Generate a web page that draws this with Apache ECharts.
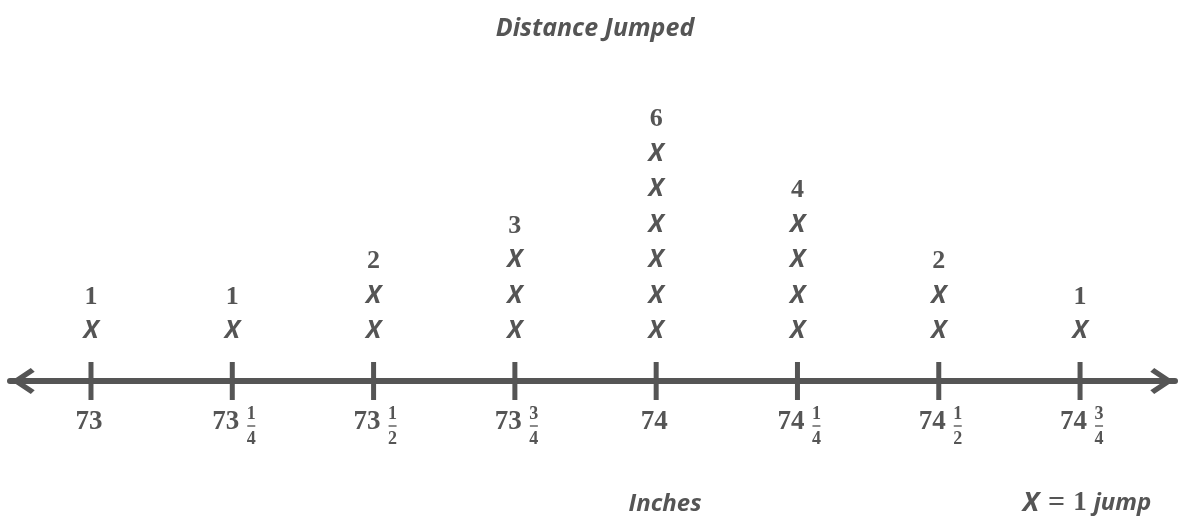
<!DOCTYPE html>
<html>
<head>
<meta charset="utf-8">
<script src="https://cdn.jsdelivr.net/npm/echarts@6/dist/echarts.min.js"></script>
<style>
html,body{margin:0;padding:0;background:#fff;}
#c{width:1178px;height:519px;}
</style>
</head>
<body>
<div id="c"></div>
<script>
// ---- data ----
const tickValues = [73, 73.25, 73.5, 73.75, 74, 74.25, 74.5, 74.75];
const tickWhole = ['73', '73', '73', '73', '74', '74', '74', '74'];
const tickNum = ['', '1', '1', '3', '', '1', '1', '3'];
const tickDen = ['', '4', '2', '4', '', '4', '2', '4'];
const counts = [1, 1, 2, 3, 6, 4, 2, 1];
const titleText = 'Distance Jumped';
const axisName = 'Inches';

// ---- styles ----
const GRAY = '#555555';
const Y_MIN = -0.4, Y_MAX = 8;
const SERIF = '"Liberation Serif", "DejaVu Serif", serif';
const SANS = '"Open Sans", "DejaVu Sans", sans-serif';

const xMarks = [];
tickValues.forEach((v, i) => {
  for (let k = 1; k <= counts[i]; k++) xMarks.push([v, k]);
});
const countLabels = tickValues.map((v, i) => [v, counts[i] + 1, counts[i]]);
const tickData = tickValues.map((v, i) => [v, i]);

const chart = echarts.init(document.getElementById('c'), null, {renderer: 'canvas'});

const chevron = 'path://M50,0 L100,75 L86,90 L50,36 L14,90 L0,75 Z';

chart.setOption({
  animation: false,
  backgroundColor: '#ffffff',
  title: {
    text: titleText,
    left: 590,
    textAlign: 'center',
    top: 11,
    textStyle: {
      fontFamily: SANS, fontStyle: 'italic', fontWeight: 'bold',
      fontSize: 25, color: GRAY
    }
  },
  grid: {left: 10, right: 3, top: 82.8, bottom: 138, containLabel: false},
  xAxis: {
    type: 'value',
    min: 72.8567,
    max: 74.918,
    axisLine: {
      show: true,
      onZero: false,
      symbol: [chevron, chevron],
      symbolSize: [26, 26],
      symbolOffset: [13, -13],
      lineStyle: {color: GRAY, width: 6}
    },
    axisTick: {show: false},
    axisLabel: {show: false},
    splitLine: {show: false}
  },
  yAxis: {
    type: 'value', min: Y_MIN, max: Y_MAX, show: false,
    splitLine: {show: false}
  },
  graphic: [
    {
      type: 'text', x: 665, y: 504,
      style: {
        text: axisName, align: 'center', verticalAlign: 'middle',
        fontFamily: SANS, fontStyle: 'italic', fontWeight: 'bold',
        fontSize: 24, fill: GRAY
      }
    },
    {
      type: 'text', x: 1087, y: 503,
      style: {
        text: '{x|X}{n|=}{o|1}{j|jump}', align: 'center', verticalAlign: 'middle',
        rich: {
          x: {fontFamily: SANS, fontStyle: 'italic', fontWeight: 'bold', fontSize: 27, fill: GRAY},
          n: {fontFamily: SERIF, fontWeight: 'bold', fontSize: 30, fill: GRAY, padding: [0, 8, 0, 9]},
          o: {fontFamily: SERIF, fontWeight: 'bold', fontSize: 27, fill: GRAY, padding: [0, 7, 0, 0]},
          j: {fontFamily: SANS, fontStyle: 'italic', fontWeight: 'bold', fontSize: 24, fill: GRAY}
        }
      }
    }
  ],
  series: [
    {
      type: 'custom',
      name: 'ticks',
      data: tickData,
      clip: false,
      renderItem: function (params, api) {
        const i = params.dataIndex;
        const p = api.coord([api.value(0), Y_MIN]);
        const x = p[0], y = p[1];
        const children = [{
          type: 'line',
          shape: {x1: x, y1: y - 19, x2: x, y2: y + 19},
          style: {stroke: GRAY, lineWidth: 5}
        }];
        if (tickNum[i] === '') {
          children.push({
            type: 'text', x: x - 2, y: y + 41,
            style: {text: tickWhole[i], align: 'center', verticalAlign: 'middle',
              fontFamily: SERIF, fontWeight: 'bold', fontSize: 27, fill: GRAY}
          });
        } else {
          children.push({
            type: 'text', x: x + 7, y: y + 41,
            style: {text: tickWhole[i], align: 'right', verticalAlign: 'middle',
              fontFamily: SERIF, fontWeight: 'bold', fontSize: 27, fill: GRAY}
          });
          children.push({
            type: 'text', x: x + 19, y: y + 33,
            style: {text: tickNum[i], align: 'center', verticalAlign: 'middle',
              fontFamily: SERIF, fontWeight: 'bold', fontSize: 18, fill: GRAY}
          });
          children.push({
            type: 'line',
            shape: {x1: x + 15, y1: y + 45, x2: x + 23, y2: y + 45},
            style: {stroke: '#8a8a8a', lineWidth: 2}
          });
          children.push({
            type: 'text', x: x + 19, y: y + 58,
            style: {text: tickDen[i], align: 'center', verticalAlign: 'middle',
              fontFamily: SERIF, fontWeight: 'bold', fontSize: 18, fill: GRAY}
          });
        }
        return {type: 'group', children: children};
      }
    },
    {
      type: 'custom',
      name: 'marks',
      data: xMarks,
      clip: false,
      renderItem: function (params, api) {
        const p = api.coord([api.value(0), api.value(1)]);
        return {
          type: 'text', x: p[0], y: p[1],
          style: {text: 'X', align: 'center', verticalAlign: 'middle',
            fontFamily: SANS, fontStyle: 'italic', fontWeight: 'bold',
            fontSize: 25, fill: GRAY}
        };
      }
    },
    {
      type: 'custom',
      name: 'counts',
      data: countLabels,
      clip: false,
      renderItem: function (params, api) {
        const p = api.coord([api.value(0), api.value(1)]);
        return {
          type: 'text', x: p[0], y: p[1] + 1,
          style: {text: String(api.value(2)), align: 'center', verticalAlign: 'middle',
            fontFamily: SERIF, fontWeight: 'bold', fontSize: 26, fill: GRAY}
        };
      }
    }
  ]
});
</script>
</body>
</html>
